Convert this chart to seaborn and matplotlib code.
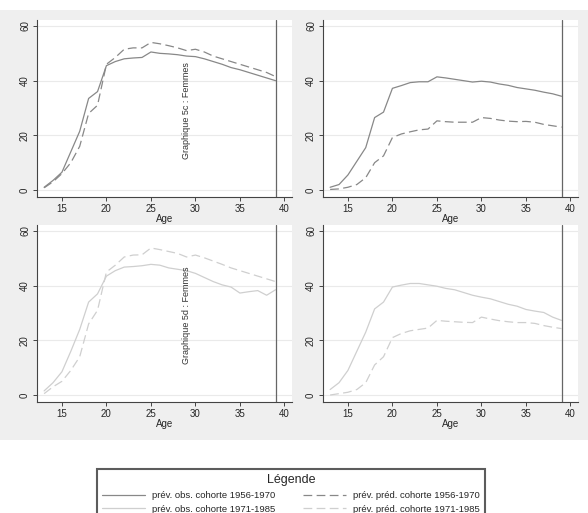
import numpy as np
import pandas as pd
import matplotlib
matplotlib.use("Agg")
import matplotlib.pyplot as plt
import seaborn as sns
from matplotlib.lines import Line2D
from matplotlib.patches import Rectangle

sns.set_style("white")
plt.rcParams['font.family'] = ['Liberation Sans', 'DejaVu Sans']

ages = list(range(13, 40))

# top-left : Graphique 5c
p1_obs = [1, 3.5, 6.5, 14, 21.5, 33.5, 36, 45.5, 47, 48, 48.3, 48.5, 50.5, 50, 49.8,
          49.5, 49, 48.8, 48, 47, 46, 44.8, 44, 43, 42, 41, 40]
p1_pred = [0.8, 3, 6, 10, 16, 28, 31, 46, 48.5, 51.5, 52, 52, 54, 53.5, 52.8,
           52, 51, 51.5, 50.5, 49, 48, 47, 46, 45, 44, 43, 41.5]
# top-right
p2_obs = [1, 2, 5.5, 10.5, 15.5, 26.5, 28.5, 37.2, 38.2, 39.3, 39.6, 39.6, 41.4, 41, 40.5,
          40, 39.5, 39.8, 39.5, 38.8, 38.3, 37.5, 37, 36.5, 35.8, 35.2, 34.3]
p2_pred = [0.2, 0.4, 1, 2, 4.5, 10, 12.5, 19.2, 20.5, 21.3, 22, 22.3, 25.3, 25, 24.8,
           24.8, 24.8, 26.5, 26.2, 25.6, 25.2, 25, 25.1, 24.8, 24, 23.5, 23]
# bottom-left : Graphique 5d
p3_obs = [1.5, 4.5, 8.5, 16, 24, 34, 37, 43.5, 45.5, 46.8, 47, 47.3, 47.8, 47.5, 46.5,
          46, 45.5, 44.5, 43, 41.5, 40.3, 39.5, 37.3, 37.8, 38.2, 36.5, 38.5]
p3_pred = [0.5, 3, 5, 9, 14, 26, 31, 45, 47.5, 50.5, 51.2, 51.3, 53.8, 53.2, 52.5,
           51.8, 50.5, 51.2, 50.2, 49, 47.8, 46.5, 45.5, 44.5, 43.5, 42.5, 41.5]
# bottom-right
p4_obs = [2, 4.5, 9, 16, 23, 31.5, 34, 39.5, 40.2, 40.8, 40.8, 40.3, 39.8, 39, 38.5,
          37.5, 36.5, 35.8, 35.2, 34.2, 33.2, 32.5, 31.3, 30.7, 30.2, 28.5, 27.3]
p4_pred = [0, 0.5, 1, 2, 4.5, 11, 14, 21, 22.5, 23.5, 24, 24.5, 27.3, 27, 26.8,
           26.6, 26.5, 28.5, 27.8, 27.2, 26.8, 26.5, 26.5, 26.2, 25.4, 24.8, 24.3]

x_ticks = [15, 20, 25, 30, 35, 40]
y_ticks = [0, 20, 40, 60]
legend_labels = ["prév. obs. cohorte 1956-1970", "prév. obs. cohorte 1971-1985",
                 "prév. préd. cohorte 1956-1970", "prév. préd. cohorte 1971-1985"]

dark = "#888888"
light = "#cfcfcf"
dash = (0, (7, 3.5))

W, H = 588, 513
fig = plt.figure(figsize=(W / 100, H / 100), dpi=100)
fig.add_artist(Rectangle((0, 1 - 440 / H), 1, 430 / H, transform=fig.transFigure,
                         facecolor="#efefef", edgecolor="none", zorder=-10))

panels = [
    (37, 20, p1_obs, p1_pred, dark, "Graphique 5c : Femmes"),
    (323, 20, p2_obs, p2_pred, dark, None),
    (37, 225, p3_obs, p3_pred, light, "Graphique 5d : Femmes"),
    (323, 225, p4_obs, p4_pred, light, None),
]

for left, top, obs, pred, col, label in panels:
    ax = fig.add_axes([left / W, 1 - (top + 177) / H, 255 / W, 177 / H])
    ax.set_facecolor("white")
    df = pd.DataFrame({"Age": ages, "obs": obs, "pred": pred})
    sns.lineplot(data=df, x="Age", y="obs", ax=ax, color=col, lw=0.9)
    sns.lineplot(data=df, x="Age", y="pred", ax=ax, color=col, lw=0.9, linestyle=dash)
    ax.axvline(39, color="#666666", lw=0.9)
    for yv in y_ticks:
        ax.axhline(yv, color="#eaeaea", lw=0.8, zorder=0)
    ax.set_xlim(12.2, 40.85)
    ax.set_ylim(-2.56, 62.2)
    ax.set_xticks(x_ticks)
    ax.set_yticks(y_ticks)
    ax.tick_params(axis="both", labelsize=7, length=3, width=0.7, color="#444444",
                   pad=2, bottom=True, left=True)
    for t in ax.get_yticklabels():
        t.set_rotation(90)
        t.set_va("center")
    ax.set_xlabel("Age", fontsize=7, labelpad=0)
    ax.set_ylabel("")
    for s in ["top", "right"]:
        ax.spines[s].set_visible(False)
    for s in ["left", "bottom"]:
        ax.spines[s].set_color("#444444")
        ax.spines[s].set_linewidth(0.8)
    if label:
        ax.text(29, 29, label, rotation=90, ha="center", va="center", fontsize=6.5,
                color="#333333")

handles = [Line2D([], [], color=dark, lw=0.9), Line2D([], [], color=light, lw=0.9),
           Line2D([], [], color=dark, lw=0.9, linestyle=dash),
           Line2D([], [], color=light, lw=0.9, linestyle=dash)]
leg = fig.legend(handles, legend_labels, ncol=2, loc="upper left", mode="expand",
                 bbox_to_anchor=(97 / W, 0, 388 / W, 1 - 469 / H), title="Légende",
                 fontsize=6.8, title_fontsize=9, handlelength=4.5, labelspacing=0.5,
                 borderaxespad=0, borderpad=0.55, fancybox=False, frameon=True)
leg.get_frame().set_edgecolor("#333333")
leg.get_frame().set_linewidth(1.5)

fig.savefig("out.png", dpi=100)
